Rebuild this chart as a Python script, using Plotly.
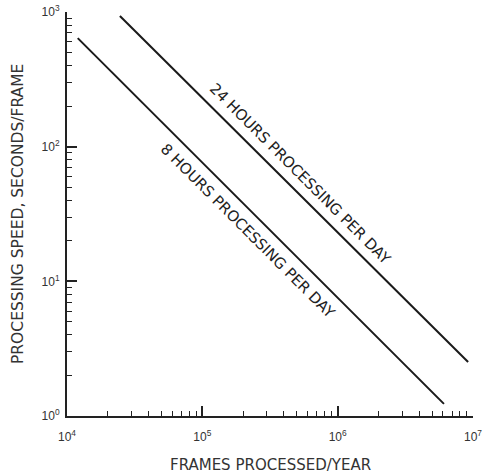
import plotly.graph_objects as go

# Data (frames/year, seconds/frame)
frames_8h = [1.2e4, 6.1e6]
speed_8h = [640, 1.23]
frames_24h = [2.46e4, 9.2e6]
speed_24h = [935, 2.52]

x_tickvals = [1e4, 1e5, 1e6, 1e7]
x_ticktext = ["10<sup>4</sup>", "10<sup>5</sup>", "10<sup>6</sup>", "10<sup>7</sup>"]
y_tickvals = [1, 10, 100, 1000]
y_ticktext = ["10<sup>0</sup>", "10<sup>1</sup>", "10<sup>2</sup>", "10<sup>3</sup>"]

label_24 = "24 HOURS PROCESSING PER DAY"
label_8 = "8 HOURS PROCESSING PER DAY"
# label positions in log10 axis units
label_24_pos = (5.725, 1.800)
label_8_pos = (5.335, 1.372)

x_title = "FRAMES PROCESSED/YEAR"
y_title = "PROCESSING SPEED, SECONDS/FRAME"


def minor_vals(lo, hi):
    vals = []
    d = lo
    while d < hi:
        for m in range(2, 10):
            vals.append(m * d)
        d *= 10
    return vals


fig = go.Figure()
fig.add_trace(go.Scatter(x=frames_8h, y=speed_8h, mode="lines",
                         line=dict(color="#1a1a1a", width=2), showlegend=False))
fig.add_trace(go.Scatter(x=frames_24h, y=speed_24h, mode="lines",
                         line=dict(color="#1a1a1a", width=2), showlegend=False))
# invisible helper traces so the overlaid tick axes are drawn
for ax in ("y2", "y3"):
    fig.add_trace(go.Scatter(x=frames_8h, y=speed_8h, mode="lines", yaxis=ax,
                             line=dict(color="rgba(0,0,0,0)", width=0), hoverinfo="skip",
                             showlegend=False))

font_family = "DejaVu Sans, Verdana, sans-serif"
tick_family = "Liberation Sans, Arial, sans-serif"

fig.add_annotation(x=label_24_pos[0], y=label_24_pos[1], xref="x", yref="y",
                   text=label_24, showarrow=False, textangle=45,
                   font=dict(family=font_family, size=15, color="#222"))
fig.add_annotation(x=label_8_pos[0], y=label_8_pos[1], xref="x", yref="y",
                   text=label_8, showarrow=False, textangle=45,
                   font=dict(family=font_family, size=15, color="#222"))

fig.add_annotation(x=0.5, y=0, xref="paper", yref="paper", yshift=-49,
                   text=x_title, showarrow=False, yanchor="middle",
                   font=dict(family=font_family, size=15, color="#333"))
fig.add_annotation(x=0, y=0.5, xref="paper", yref="paper", xshift=-49,
                   text=y_title, showarrow=False, textangle=-90, xanchor="center",
                   font=dict(family=font_family, size=15.5, color="#333"))

fig.update_xaxes(type="log", range=[4, 7], showline=True, linecolor="#222", linewidth=2,
                 showgrid=False, zeroline=False, ticks="inside", ticklen=10, tickwidth=1.5,
                 tickcolor="#222", automargin=False, ticklabelstandoff=9,
                 tickvals=x_tickvals, ticktext=x_ticktext,
                 tickfont=dict(family=tick_family, size=12, color="#333"),
                 minor=dict(tickvals=minor_vals(1e4, 1e7), ticks="inside", ticklen=5,
                            tickcolor="#222", tickwidth=1, showgrid=False))

fig.update_layout(
    yaxis=dict(type="log", range=[0, 3], showline=True, linecolor="#222", linewidth=2,
               showgrid=False, zeroline=False, ticks="outside", ticklen=0,
               automargin=False, ticklabelstandoff=3,
               tickvals=y_tickvals, ticktext=y_ticktext,
               tickfont=dict(family=tick_family, size=12, color="#333")),
    yaxis2=dict(type="log", range=[0, 3], overlaying="y", side="left", anchor="x",
                showline=False, showgrid=False, zeroline=False, ticks="inside",
                ticklen=10, tickwidth=1.5, tickcolor="#222", automargin=False,
                tickvals=y_tickvals, showticklabels=False),
    yaxis3=dict(type="log", range=[0, 3], overlaying="y", side="left", anchor="x",
                showline=False, showgrid=False, zeroline=False, ticks="inside",
                ticklen=5, tickwidth=1, tickcolor="#222", automargin=False,
                tickvals=minor_vals(1, 1000), showticklabels=False),
    width=484, height=474, plot_bgcolor="white", paper_bgcolor="white",
    margin=dict(l=67, r=11, t=12, b=58), showlegend=False)

fig.write_html("out.html", config={"displayModeBar": False},
               post_script="document.body.style.margin='0px';document.body.style.overflow='hidden';")
